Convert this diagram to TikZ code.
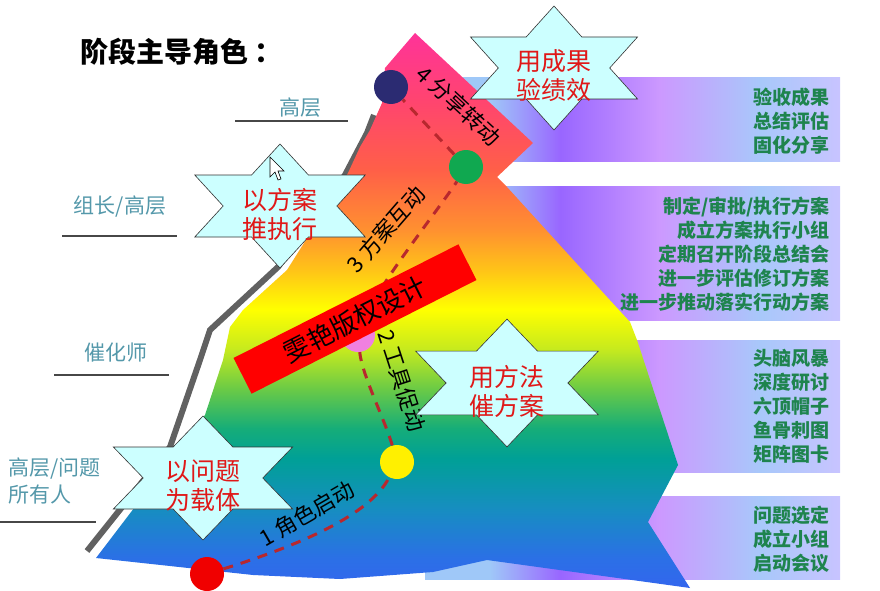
\documentclass[tikz,border=0pt]{standalone}
\usepackage{fontspec}
\setmainfont{Noto Sans CJK SC}
\usepackage{xcolor}
\definecolor{roleteal}{RGB}{84,152,170}
\definecolor{stepgreen}{RGB}{30,132,78}
\definecolor{starcyan}{HTML}{CCFFFF}
\definecolor{startext}{HTML}{E01818}
\definecolor{routered}{HTML}{B8282E}
\definecolor{navydot}{HTML}{2B2B72}
\definecolor{greendot}{HTML}{10A850}
\definecolor{pinkdot}{HTML}{F080E0}
\definecolor{yellowdot}{HTML}{FFF000}
\definecolor{reddot}{HTML}{F00000}
% rainbow of the main body, bottom to top
\definecolor{rb0}{HTML}{3366EE}
\definecolor{rb1}{HTML}{2B70E6}
\definecolor{rb2}{HTML}{168EC0}
\definecolor{rb3}{HTML}{00A096}
\definecolor{rb4}{HTML}{16AD78}
\definecolor{rb5}{HTML}{6CCB45}
\definecolor{rb6}{HTML}{C6EA1E}
\definecolor{rb7}{HTML}{FFFF00}
\definecolor{rb8}{HTML}{FFC318}
\definecolor{rb9}{HTML}{FF9030}
\definecolor{rb10}{HTML}{FF5F48}
\definecolor{rb11}{HTML}{FF4470}
\definecolor{rb12}{HTML}{FF3399}
\pgfdeclareverticalshading{rainbowfill}{100bp}{color(0bp)=(rb0); color(25bp)=(rb0);
  color(27.7bp)=(rb1); color(32.2bp)=(rb2); color(36.7bp)=(rb3); color(39.4bp)=(rb4);
  color(43bp)=(rb5); color(46.5bp)=(rb6); color(50.1bp)=(rb7); color(53.7bp)=(rb8);
  color(57.3bp)=(rb9); color(62.7bp)=(rb10); color(69bp)=(rb11); color(75bp)=(rb12);
  color(100bp)=(rb12)}
% bands on the right
\definecolor{bd0}{HTML}{9FC8F8}
\definecolor{bd1}{HTML}{9966FF}
\definecolor{bd2}{HTML}{CC99FF}
\definecolor{bd3}{HTML}{A8C8FA}
\definecolor{bd4}{HTML}{C8C4FF}
\pgfdeclarehorizontalshading{bandfill}{100bp}{color(0bp)=(bd0); color(25bp)=(bd0);
  color(32.8bp)=(bd0); color(41.3bp)=(bd1); color(53.3bp)=(bd2); color(65.4bp)=(bd3);
  color(75bp)=(bd4); color(100bp)=(bd4)}

\newcommand{\hexstar}[3]{%
  \begin{scope}[#2]
    \draw[starline] (0,-62) -- (29,-31) -- (87,-31) -- (58,0) -- (87,31) -- (29,31)
      -- (0,62) -- (-29,31) -- (-87,31) -- (-58,0) -- (-87,-31) -- (-29,-31) -- cycle;
    \node[starlabel] (#1) at (0,8) {#3};
  \end{scope}}

\begin{document}
\begin{tikzpicture}[x=1pt,y=-1pt,
    rolelabel/.style={text=roleteal,font=\fontsize{21}{27}\selectfont,inner sep=0pt},
    roleline/.style={draw=black!72,line width=1.3pt},
    bandtext/.style={text=stepgreen,font=\bfseries\fontsize{19}{24}\selectfont,align=right,anchor=east,inner sep=0pt},
    phase/.style={font=\fontsize{22}{24}\selectfont,inner sep=0pt},
    dot/.style={circle,minimum size=34pt,inner sep=0pt},
    route/.style={draw=routered,line width=3pt,dash pattern=on 10pt off 8pt},
    starline/.style={draw=black!80,fill=starcyan,line width=0.6pt},
    starlabel/.style={text=startext,align=center,font=\fontsize{25}{29}\selectfont,inner sep=0pt}]
  \useasboundingbox (0,0) rectangle (880,591);

  % bands behind the body
  \path[shading=bandfill] (425,78) rectangle (840,161);
  \path[shading=bandfill] (425,186) rectangle (840,320);
  \path[shading=bandfill] (425,340) rectangle (840,472);
  \path[shading=bandfill] (425,496) rectangle (840,579);
  \node[bandtext] (b4) at (830,121) {验收成果\\总结评估\\固化分享};
  \node[bandtext] (b3) at (830,254) {制定/审批/执行方案\\成立方案执行小组\\定期召开阶段总结会\\进一步评估修订方案\\进一步推动落实行动方案};
  \node[bandtext] (b2) at (830,406) {头脑风暴\\深度研讨\\六顶帽子\\鱼骨刺图\\矩阵图卡};
  \node[bandtext] (b1) at (830,539) {问题选定\\成立小组\\启动会议};

  % shadow edge and body
  \draw[line width=6pt,draw=black!62] (87,551) -- (170,447) -- (200,360) -- (210,330)
    -- (278,267) -- (345,175) -- (367,133) -- (374,115);
  \path[shading=rainbowfill] (415,33) -- (533,143) -- (497,177) -- (507,187) -- (607,297)
    -- (630,322) -- (637,340) -- (678,465) -- (648,522) -- (690,588) -- (487,560)
    -- (433,572) -- (340,579) -- (253,575) -- (96,558) -- (205,415) -- (223,360)
    -- (230,327) -- (243,310) -- (287,270) -- (348,173) -- (360,147) -- (370,130)
    -- (382,103) -- (385,68) -- cycle;

  % route
  \node[dot,fill=navydot] (d4) at (391,87) {};
  \node[dot,fill=greendot] (d3) at (466,167) {};
  \node[dot,fill=pinkdot] (d2) at (358,335) {};
  \node[dot,fill=yellowdot] (d1) at (397,462) {};
  \node[dot,fill=reddot] (d0) at (207,574) {};
  \draw[route] (d0) .. controls (300,545) and (370,515) .. (d1);
  \draw[route] (d1) .. controls (385,420) and (362,375) .. (d2);
  \draw[route] (d2) .. controls (378,285) and (442,205) .. (d3);
  \draw[route] (d3) -- (d4);

  \node[phase,rotate=-43] (p4) at (459,106) {4 分享转动};
  \node[phase,rotate=49] (p3) at (386,229) {3 方案互动};
  \node[phase,rotate=-72] (p2) at (402,381) {2 工具促动};
  \node[phase,rotate=30] (p1) at (307,514) {1 角色启动};

  \node[fill=red,rotate=26.8,minimum width=252pt,minimum height=40pt,inner sep=0pt,
    font=\fontsize{26}{28}\selectfont] (mark) at (355,319) {雯艳版权设计};

  % stars
  \hexstar{s4}{shift={(554,68)},xscale=0.96}{用成果\\验绩效}
  \hexstar{s3}{shift={(280,206)},xscale=0.98}{以方案\\推执行}
  \hexstar{s2}{shift={(507,383)},xscale=1.05,yscale=1.03}{用方法\\催方案}
  \hexstar{s1}{shift={(203,478)},xscale=1.03}{以问题\\为载体}

  % roles on the left
  \node[font=\bfseries\fontsize{28}{30}\selectfont,anchor=west,inner sep=0pt] (title) at (80,52) {阶段主导角色\hspace{6pt}：};
  \node[rolelabel] (r4) at (300,108) {高层};
  \draw[roleline] (235,121) -- (348,121);
  \node[rolelabel] (r3) at (120,207) {组长/高层};
  \draw[roleline] (62,236) -- (177,236);
  \node[rolelabel] (r2) at (116,353) {催化师};
  \draw[roleline] (54,375) -- (169,375);
  \node[rolelabel,align=left,anchor=west] (r1) at (8,481) {高层/问题\\所有人};
  \draw[roleline] (0,522) -- (96,522);

  % pointer
  \draw[fill=white,line width=0.6pt] (270,157) -- (270,177) -- (275,172) -- (278,180)
    -- (281,179) -- (278,171) -- (284,171) -- cycle;
\end{tikzpicture}
\end{document}
